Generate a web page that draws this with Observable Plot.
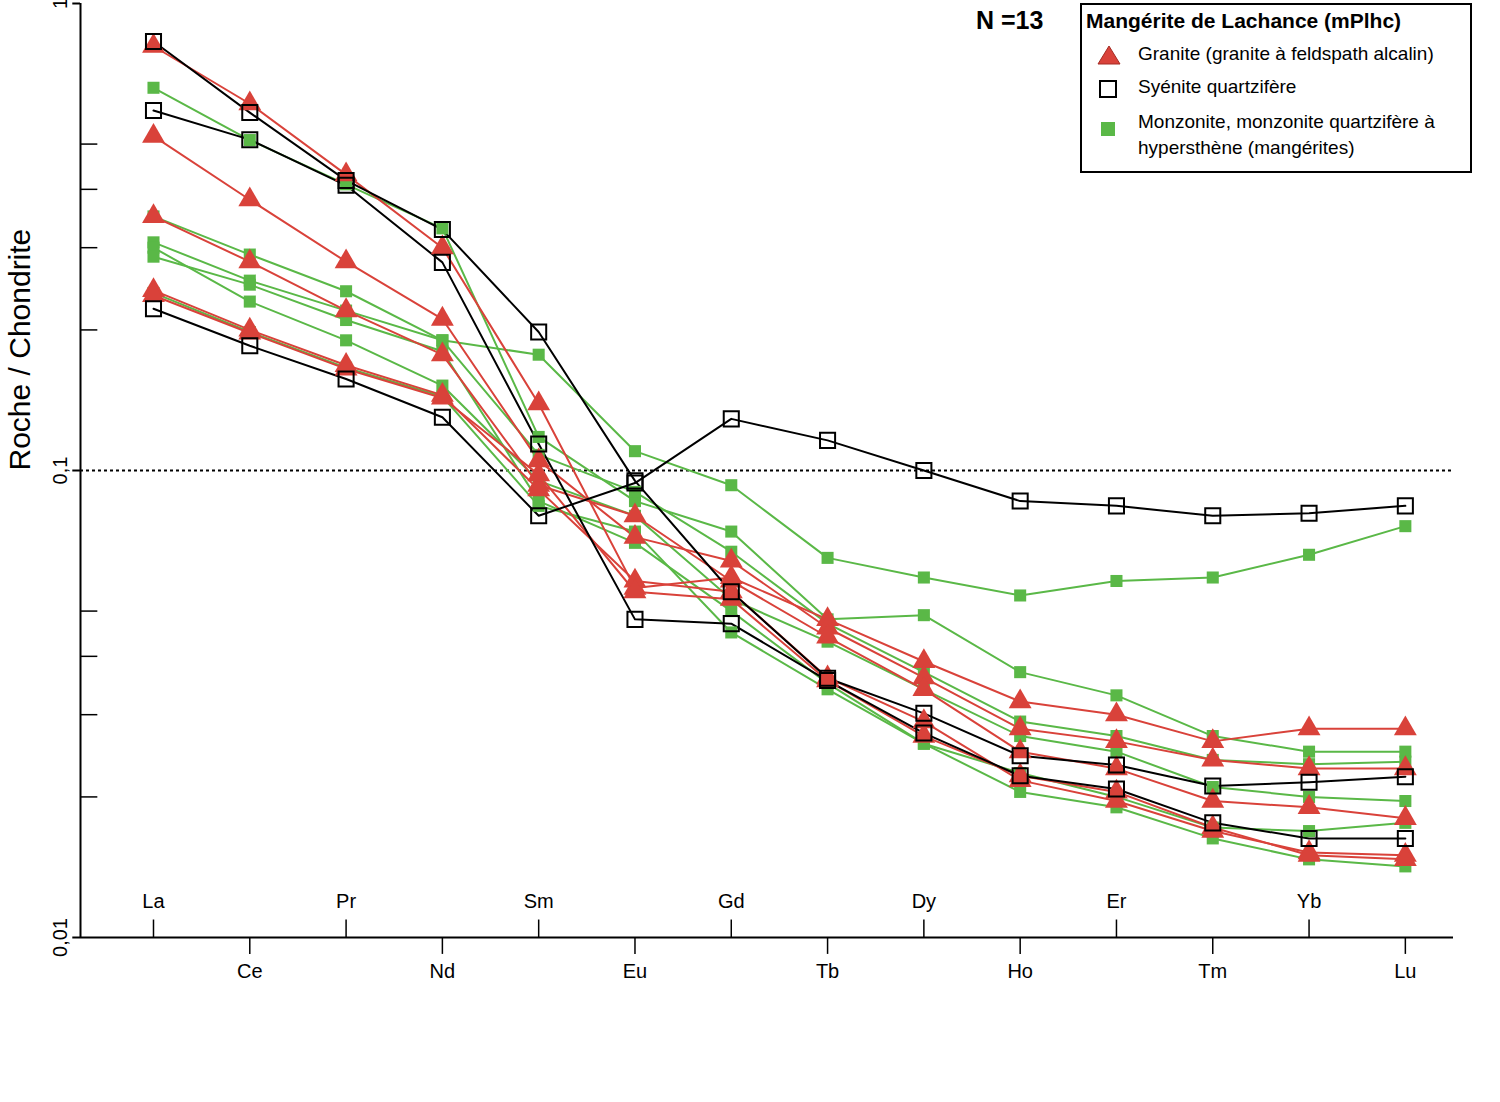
<!DOCTYPE html>
<html><head><meta charset="utf-8">
<script src="https://cdn.jsdelivr.net/npm/d3@7"></script>
<script src="https://cdn.jsdelivr.net/npm/@observablehq/plot@0.6"></script>
<style>
body{margin:0;background:#fff;font-family:Arial,"Liberation Sans",sans-serif;}
#wrap{position:relative;width:1500px;height:1102px;}
#legend{position:absolute;left:1080px;top:3px;width:388px;height:166px;border:2px solid #000;background:#fff;font-size:19px;}
#legend .t{position:absolute;left:4px;top:4px;font-weight:bold;font-size:21px;}
#legend .i{position:absolute;left:56px;}
#legend svg{position:absolute;left:14px;}
#n{position:absolute;left:976px;top:6px;font-weight:bold;font-size:25px;}
</style></head><body>
<div id="wrap"><div id="chart"></div>
<div id="n">N =13</div>
<div id="legend">
<div class="t">Mangérite de Lachance (mPlhc)</div>
<svg style="top:38px" width="26" height="24"><path d="M13,3 L24,21 L2,21Z" fill="#d9423a" stroke="#a52a22"/></svg>
<div class="i" style="top:38px">Granite (granite à feldspath alcalin)</div>
<svg style="top:72px" width="26" height="24"><rect x="4" y="4" width="16" height="16" fill="#fff" stroke="#000" stroke-width="2"/></svg>
<div class="i" style="top:71px">Syénite quartzifère</div>
<svg style="top:112px" width="26" height="24"><rect x="5" y="5" width="14" height="14" fill="#5ab847"/></svg>
<div class="i" style="top:104px;line-height:26px">Monzonite, monzonite quartzifère à<br>hypersthène (mangérites)</div>
</div></div>
<script>
const elements = ["La","Ce","Pr","Nd","Sm","Eu","Gd","Tb","Dy","Ho","Er","Tm","Yb","Lu"];
const yTicks = [1, 0.1, 0.01];
const yTickLabels = ["1","0,1","0,01"];
const minorTicks = [0.5,0.4,0.3,0.2,0.05,0.04,0.03,0.02];

const syenite = [
 [0.222,0.185,0.157,0.130,0.080,0.094,0.129,0.116,0.100,0.086,0.084,0.080,0.081,0.084],
 [0.829,0.584,0.418,0.328,0.198,0.095,0.055,0.0359,0.0302,0.0245,0.0234,0.0211,0.0215,0.0221],
 [0.590,0.511,0.408,0.279,0.114,0.048,0.047,0.0355,0.0274,0.0222,0.0208,0.0176,0.0163,0.0163]
];
const granite = [
 [0.81,0.61,0.43,0.30,0.139,0.056,0.059,0.048,0.039,0.032,0.030,0.0263,0.028,0.028],
 [0.52,0.38,0.28,0.211,0.105,0.072,0.064,0.046,0.036,0.028,0.0263,0.024,0.023,0.023],
 [0.35,0.28,0.22,0.177,0.093,0.080,0.058,0.044,0.034,0.025,0.023,0.0196,0.019,0.018],
 [0.243,0.200,0.168,0.145,0.091,0.058,0.055,0.036,0.029,0.0217,0.0196,0.0169,0.0152,0.015],
 [0.237,0.197,0.165,0.143,0.098,0.055,0.053,0.0355,0.027,0.0222,0.0205,0.0172,0.015,0.0147]
];
const monzonite = [
 [0.35,0.29,0.242,0.19,0.177,0.110,0.093,0.065,0.059,0.054,0.058,0.059,0.066,0.076],
 [0.66,0.51,0.41,0.33,0.118,0.086,0.074,0.048,0.049,0.037,0.033,0.027,0.025,0.025],
 [0.308,0.255,0.22,0.19,0.108,0.090,0.067,0.047,0.037,0.029,0.027,0.024,0.0235,0.0238],
 [0.30,0.23,0.19,0.152,0.095,0.080,0.053,0.043,0.034,0.027,0.025,0.021,0.020,0.0196],
 [0.287,0.25,0.21,0.18,0.086,0.070,0.050,0.035,0.026,0.0225,0.020,0.0172,0.0169,0.0176],
 [0.24,0.198,0.166,0.144,0.084,0.074,0.045,0.034,0.026,0.0205,0.019,0.0163,0.0147,0.0142]
];
function flat(groups, g){ return groups.flatMap((s,k)=>s.map((v,i)=>({g, k:g+k, i, v}))); }
const S = flat(syenite,"s"), R = flat(granite,"r"), G = flat(monzonite,"m");
const idx = elements.map((e,i)=>({e,i}));
const xMin = -0.758, xMax = 13.5;
const red="#d9423a", green="#5ab847";

const chart = Plot.plot({
  width:1500, height:1102, marginLeft:80, marginTop:3, marginRight:47, marginBottom:165,
  x:{type:"linear", domain:[xMin,xMax], axis:null},
  y:{type:"log", domain:[0.01,1], axis:null},
  style:{fontFamily:"Arial, Liberation Sans, sans-serif"},
  marks:[
    Plot.ruleY([0.1],{stroke:"#000",strokeWidth:2,strokeDasharray:"3,3"}),
    Plot.ruleX([xMin],{stroke:"#000",strokeWidth:2}),
    Plot.ruleY([0.01],{stroke:"#000",strokeWidth:2}),
    Plot.ruleY(yTicks,{x1:xMin-0.08,x2:xMin,stroke:"#000",strokeWidth:2}),
    Plot.ruleY(minorTicks,{x1:xMin,x2:xMin+0.18,stroke:"#000",strokeWidth:1.5}),
    Plot.text(yTicks.map((v,i)=>({v,l:yTickLabels[i]})),{x:xMin,y:"v",text:"l",rotate:-90,dx:-20,fontSize:20,textAnchor:d=>d.v===1?"end":d.v===0.01?"start":"middle"}),
    Plot.text(["Roche / Chondrite"],{frameAnchor:"left",dx:-60,rotate:-90,fontSize:30}),
    Plot.ruleX(idx.filter(d=>d.i%2===0),{x:"i",y1:0.01,y2:0.0109,stroke:"#000",strokeWidth:1.5}),
    Plot.ruleX(idx.filter(d=>d.i%2===1),{x:"i",y1:0.01,y2:0.0092,stroke:"#000",strokeWidth:1.5}),
    Plot.text(idx.filter(d=>d.i%2===0),{x:"i",y:0.01,text:"e",dy:-36,fontSize:20}),
    Plot.text(idx.filter(d=>d.i%2===1),{x:"i",y:0.01,text:"e",dy:34,fontSize:20}),
    Plot.line(G,{x:"i",y:"v",z:"k",stroke:green,strokeWidth:2}),
    Plot.line(R,{x:"i",y:"v",z:"k",stroke:red,strokeWidth:2}),
    Plot.line(S,{x:"i",y:"v",z:"k",stroke:"#000",strokeWidth:2}),
    Plot.dot(G,{x:"i",y:"v",symbol:"square",r:6.8,fill:green}),
    Plot.dot(R,{x:"i",y:"v",symbol:"triangle",r:8.5,fill:red}),
    Plot.dot(S,{x:"i",y:"v",symbol:"square",r:8.5,fill:"none",stroke:"#000",strokeWidth:2})
  ]
});
document.getElementById("chart").appendChild(chart);
</script></body></html>
